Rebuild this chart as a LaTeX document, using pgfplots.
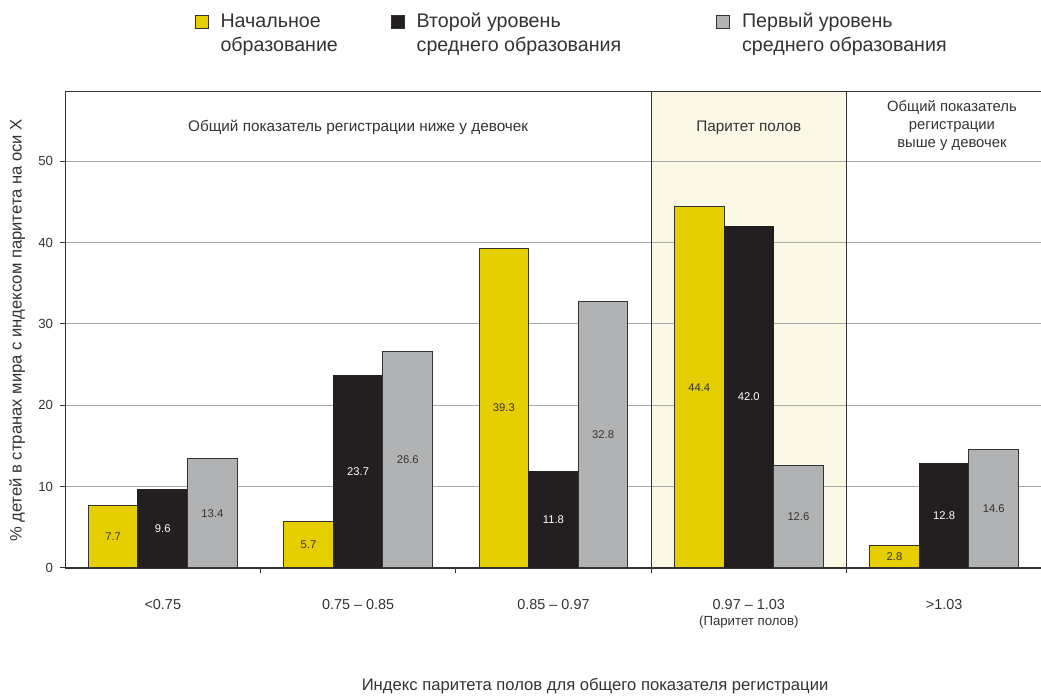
\documentclass[border=0pt]{standalone}
\usepackage{fontspec}
\setmainfont{Liberation Sans}
\usepackage{pgfplots}
\usepackage{pgfplotstable}
\pgfplotsset{compat=1.18}
\usetikzlibrary{calc}

\definecolor{cyel}{HTML}{E5CF00}
\definecolor{cblk}{HTML}{231F20}
\definecolor{cgry}{HTML}{B1B2B3}
\definecolor{ccream}{HTML}{FCF8E6}
\definecolor{cgrid}{HTML}{A8A8A8}
\definecolor{ctxt}{HTML}{333333}

% x = category index, v = % of countries
\pgfplotstableread{
x v
0 7.7
1 5.7
2 39.3
3 44.4
4 2.8
}\primary
\pgfplotstableread{
x v
0 9.6
1 23.7
2 11.8
3 42.0
4 12.8
}\secondlow
\pgfplotstableread{
x v
0 13.4
1 26.6
2 32.8
3 12.6
4 14.6
}\secondup

\pgfplotsset{
  ybar legend/.style={legend image code/.code={
    \draw[##1, draw=ctxt, line width=0.4pt] (0pt,-0.4pt) rectangle (6.5pt,6.1pt);}},
}

\begin{document}
\begin{tikzpicture}
\begin{axis}[
  name=ax, set layers,
  scale only axis, width=487.5pt, height=238pt,
  xmin=-0.5, xmax=4.5, ymin=0, ymax=58.6,
  ybar=0pt, bar width=0.254,
  axis line style={ctxt, line width=0.6pt},
  tick align=outside, major tick length=2.5pt, minor tick length=2.5pt,
  tick pos=left,
  tick style={ctxt, line width=0.5pt},
  xtick={0,...,4}, minor xtick={0.5,1.5,2.5,3.5},
  major x tick style={draw=none},
  xticklabels={{<0.75},{0.75 – 0.85},{0.85 – 0.97},{0.97 – 1.03\\[0pt]{\fontsize{6.6}{7}\selectfont(Паритет полов)}},{>1.03}},
  xticklabel style={font=\fontsize{7.2}{8}\selectfont, align=center, text=ctxt, yshift=-9.5pt},
  ytick={0,10,...,50},
  yticklabel style={font=\fontsize{6.6}{8}\selectfont, text=ctxt},
  /pgf/number format/assume math mode=true,
  ymajorgrids, grid style={cgrid, line width=0.6pt},
  xlabel={Индекс паритета полов для общего показателя регистрации},
  xlabel style={at={(axis description cs:0.5426,-0.257)}, anchor=base,
                font=\fontsize{8.3}{9}\selectfont, text=ctxt},
  ylabel={\% детей в странах мира с индексом паритета на оси Х},
  ylabel style={at={(axis description cs:-0.0492,0.498)}, anchor=center,
                font=\fontsize{8.3}{9}\selectfont, text=ctxt},
  legend columns=3,
  legend style={at={(axis description cs:0.1323,1.173)}, anchor=north west,
    draw=none, fill=none, inner sep=0pt,
    font=\fontsize{9.8}{12}\selectfont,
    cells={anchor=base west, text=ctxt},
    /tikz/every odd column/.append style={column sep=4pt},
    /tikz/every even column/.append style={column sep=0pt}},
  nodes near coords={\pgfmathprintnumber[fixed,fixed zerofill,precision=1]{\pgfplotspointmeta}},
  visualization depends on={y \as \yv},
  every node near coord/.append style={anchor=center,
    font=\fontsize{5.6}{6}\selectfont, yshift={-2.0307*\yv}},
]
\begin{pgfonlayer}{axis background}
  \fill[ccream] (axis cs:2.5,0) rectangle (axis cs:3.5,58.6);
\end{pgfonlayer}
\draw[ctxt, line width=0.6pt] (axis cs:2.5,0) -- (axis cs:2.5,58.6);
\draw[ctxt, line width=0.6pt] (axis cs:3.5,0) -- (axis cs:3.5,58.6);

\addplot[fill=cyel, draw=ctxt, line width=0.5pt, bar shift=-0.254,
  every node near coord/.append style={text=ctxt}] table[x=x, y=v] {\primary};
\addlegendentry{\parbox[t]{83pt}{Начальное\\образование}}
\addplot[fill=cblk, draw=cblk, line width=0.5pt, bar shift=0,
  every node near coord/.append style={text=white}] table[x=x, y=v] {\secondlow};
\addlegendentry{\parbox[t]{147.5pt}{Второй уровень\\среднего образования}}
\addplot[fill=cgry, draw=ctxt, line width=0.5pt, bar shift=0.254,
  every node near coord/.append style={text=ctxt}] table[x=x, y=v] {\secondup};
\addlegendentry{\parbox[t]{110pt}{Первый уровень\\среднего образования}}

\node[font=\fontsize{7.65}{9}\selectfont, text=ctxt] at (axis cs:1,54.1)
  {Общий показатель регистрации ниже у девочек};
\node[font=\fontsize{7.65}{9}\selectfont, text=ctxt] at (axis cs:3,54.1)
  {Паритет полов};
\node[font=\fontsize{7.4}{9}\selectfont, text=ctxt, align=center] at (axis cs:4.04,54.4)
  {Общий показатель\\регистрации\\выше у девочек};
\end{axis}
\pgfresetboundingbox
\path[use as bounding box] ($(ax.south west)+(-32.5pt,-63.5pt)$) rectangle ($(ax.north east)+(-0.4pt,45.5pt)$);
\end{tikzpicture}
\end{document}
